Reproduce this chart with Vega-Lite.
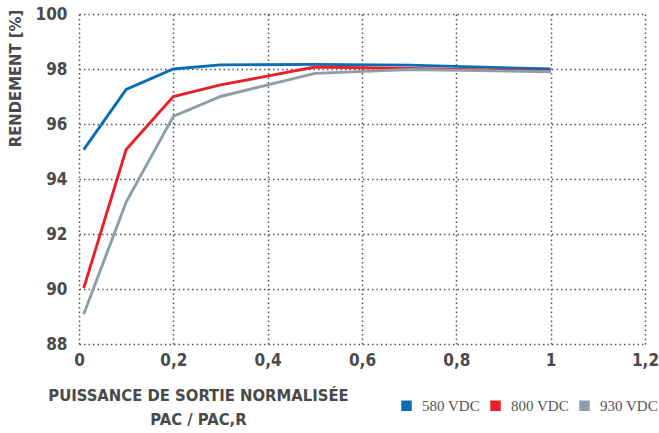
{
  "$schema": "https://vega.github.io/schema/vega-lite/v6.json",
  "width": 566,
  "height": 330,
  "autosize": {"type": "none"},
  "padding": {"left": 79, "top": 14, "right": 14, "bottom": 89},
  "background": "white",
  "config": {"view": {"stroke": null}},
  "data": {"values": [
    {"p": 0.01, "r": 95.07, "s": "580 VDC"},
    {"p": 0.1, "r": 97.26, "s": "580 VDC"},
    {"p": 0.2, "r": 98.0, "s": "580 VDC"},
    {"p": 0.3, "r": 98.15, "s": "580 VDC"},
    {"p": 0.5, "r": 98.17, "s": "580 VDC"},
    {"p": 0.7, "r": 98.14, "s": "580 VDC"},
    {"p": 1.0, "r": 98.0, "s": "580 VDC"},
    {"p": 0.01, "r": 90.03, "s": "800 VDC"},
    {"p": 0.1, "r": 95.07, "s": "800 VDC"},
    {"p": 0.2, "r": 97.0, "s": "800 VDC"},
    {"p": 0.3, "r": 97.42, "s": "800 VDC"},
    {"p": 0.5, "r": 98.07, "s": "800 VDC"},
    {"p": 0.7, "r": 98.02, "s": "800 VDC"},
    {"p": 1.0, "r": 97.92, "s": "800 VDC"},
    {"p": 0.01, "r": 89.08, "s": "930 VDC"},
    {"p": 0.1, "r": 93.16, "s": "930 VDC"},
    {"p": 0.2, "r": 96.28, "s": "930 VDC"},
    {"p": 0.3, "r": 97.0, "s": "930 VDC"},
    {"p": 0.5, "r": 97.84, "s": "930 VDC"},
    {"p": 0.7, "r": 97.98, "s": "930 VDC"},
    {"p": 1.0, "r": 97.9, "s": "930 VDC"}
  ]},
  "mark": {"type": "line", "strokeWidth": 2.9, "strokeJoin": "miter"},
  "encoding": {
    "x": {
      "field": "p", "type": "quantitative",
      "scale": {"domain": [0, 1.2], "nice": false, "zero": false},
      "axis": {
        "values": [0, 0.2, 0.4, 0.6, 0.8, 1, 1.2],
        "labelExpr": "replace(toString(datum.value), '.', ',')",
        "domain": false, "ticks": false,
        "grid": true, "gridDash": [1.5, 3], "gridColor": "#555555", "gridWidth": 1.5, "gridOpacity": 1,
        "labelFont": "DejaVu Sans Condensed", "labelFontWeight": "bold", "labelFontSize": 17, "labelColor": "#4a4a4a",
        "labelPadding": 8, "labelFlush": false,
        "title": ["PUISSANCE DE SORTIE NORMALISÉE", "PAC / PAC,R"],
        "titleFont": "DejaVu Sans Condensed", "titleFontWeight": 900, "titleFontSize": 16.5, "titleColor": "#4a4a4a",
        "titleX": 119, "titleY": 43, "titleAlign": "center", "titleBaseline": "top", "titleLineHeight": 24
      }
    },
    "y": {
      "field": "r", "type": "quantitative",
      "scale": {"domain": [88, 100], "nice": false, "zero": false},
      "axis": {
        "values": [88, 90, 92, 94, 96, 98, 100],
        "domain": false, "ticks": false,
        "grid": true, "gridDash": [1.5, 3], "gridColor": "#555555", "gridWidth": 1.5, "gridOpacity": 1,
        "labelFont": "DejaVu Sans Condensed", "labelFontWeight": "bold", "labelFontSize": 17, "labelColor": "#4a4a4a",
        "labelPadding": 12, "labelFlush": false,
        "title": "RENDEMENT [%]",
        "titleFont": "DejaVu Sans Condensed", "titleFontWeight": "bold", "titleFontSize": 16.5, "titleColor": "#4a4a4a",
        "titleAngle": 270, "titleX": -64, "titleY": 64, "titleAlign": "center", "titleBaseline": "middle"
      }
    },
    "color": {
      "field": "s", "type": "nominal",
      "scale": {"domain": ["580 VDC", "800 VDC", "930 VDC"], "range": ["#0a6cb5", "#e8202a", "#8f9ea6"]},
      "legend": {
        "title": null, "orient": "none", "direction": "horizontal",
        "legendX": 320, "legendY": 384,
        "symbolType": "square", "symbolSize": 110, "symbolStrokeWidth": 0, "symbolOpacity": 1,
        "labelFont": "Liberation Serif", "labelFontSize": 15, "labelColor": "#555555",
        "labelOffset": 8, "columnPadding": 8, "symbolOffset": 0,
        "encode": {"symbols": {"update": {"fill": {"scale": "color", "field": "value"}, "fillOpacity": {"value": 1}}}}
      }
    }
  }
}
